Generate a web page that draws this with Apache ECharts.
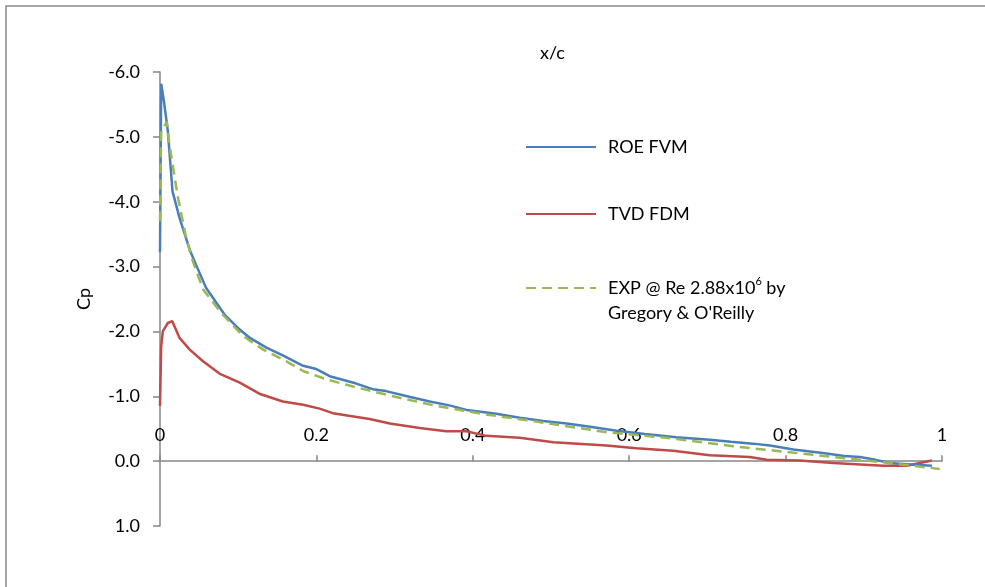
<!DOCTYPE html>
<html>
<head>
<meta charset="utf-8">
<script src="https://cdn.jsdelivr.net/npm/echarts@6/dist/echarts.min.js"></script>
<style>
  html, body { margin: 0; padding: 0; background: #fff; }
  #chart { width: 985px; height: 587px; }
</style>
</head>
<body>
<div id="chart"></div>
<script>
// values
const roeX = [0, 0.0015, 0.005, 0.01, 0.016, 0.025, 0.038, 0.046, 0.059, 0.0825, 0.1, 0.115, 0.136, 0.157, 0.183, 0.2, 0.217, 0.25, 0.272, 0.289, 0.32, 0.345, 0.37, 0.392, 0.43, 0.46, 0.49, 0.52, 0.55, 0.584, 0.62, 0.66, 0.703, 0.73, 0.758, 0.78, 0.81, 0.85, 0.875, 0.895, 0.915, 0.933, 0.96, 0.987];
const roeCp = [-3.22, -5.82, -5.55, -5.09, -4.16, -3.75, -3.26, -3.03, -2.67, -2.26, -2.05, -1.9, -1.75, -1.63, -1.47, -1.42, -1.31, -1.2, -1.11, -1.08, -0.99, -0.92, -0.86, -0.79, -0.73, -0.67, -0.62, -0.58, -0.53, -0.47, -0.42, -0.37, -0.33, -0.3, -0.27, -0.24, -0.18, -0.12, -0.08, -0.065, -0.02, 0.03, 0.05, 0.07];

const tvdX = [0, 0.0015, 0.0036, 0.01, 0.0156, 0.025, 0.038, 0.055, 0.076, 0.102, 0.127, 0.157, 0.183, 0.204, 0.221, 0.268, 0.294, 0.332, 0.366, 0.392, 0.417, 0.46, 0.503, 0.571, 0.609, 0.656, 0.703, 0.754, 0.776, 0.818, 0.861, 0.925, 0.955, 0.987];
const tvdCp = [-0.85, -1.77, -2.0, -2.13, -2.16, -1.9, -1.72, -1.54, -1.35, -1.21, -1.04, -0.92, -0.87, -0.81, -0.74, -0.65, -0.58, -0.51, -0.46, -0.46, -0.39, -0.36, -0.29, -0.24, -0.2, -0.16, -0.09, -0.065, -0.02, -0.01, 0.03, 0.07, 0.07, -0.01];

const expX = [0, 0.0015, 0.0087, 0.012, 0.023, 0.0335, 0.042, 0.055, 0.078, 0.106, 0.132, 0.157, 0.183, 0.213, 0.247, 0.298, 0.354, 0.417, 0.481, 0.575, 0.648, 0.733, 0.818, 0.904, 0.997];
const expCp = [-3.7, -5.09, -5.23, -4.88, -4.06, -3.44, -3.08, -2.65, -2.29, -1.93, -1.72, -1.57, -1.39, -1.26, -1.15, -1.0, -0.85, -0.72, -0.61, -0.44, -0.36, -0.23, -0.12, -0.01, 0.12];

const seriesNames = ['ROE FVM', 'TVD FDM', 'EXP'];

const pairs = (xs, ys) => xs.map((x, i) => [x, ys[i]]);

const chart = echarts.init(document.getElementById('chart'));
const font = 'Lato, "Open Sans", sans-serif';
const axisGray = '#868686';

// plot area, px
const gridTop = 72, gridBottom = 61, plotH = 587 - gridTop - gridBottom;
const yMin = -6, yMax = 1;
// the x axis sits on Cp = 0
const zeroOffset = -plotH * (yMax - 0) / (yMax - yMin);

const legendBase = {
  orient: 'vertical',
  left: 525,
  padding: 0,
  itemWidth: 70,
  itemHeight: 14,
  itemStyle: { opacity: 0 },
  textStyle: { fontFamily: font, fontSize: 18, color: '#000', lineHeight: 25, padding: [0, 0, 0, 7] }
};

chart.setOption({
  animation: false,
  graphic: [{
    type: 'rect',
    shape: { x: 6, y: 6, width: 1100, height: 1100 },
    style: { fill: 'none', stroke: '#898989', lineWidth: 1.5 },
    silent: true
  }],
  title: {
    text: 'x/c',
    left: 540,
    top: 44,
    padding: 0,
    textStyle: { fontFamily: font, fontSize: 18, fontWeight: 'normal', color: '#000' }
  },
  legend: [
    Object.assign({}, legendBase, { top: 134.5, data: [seriesNames[0]] }),
    Object.assign({}, legendBase, { top: 201.5, data: [seriesNames[1]] }),
    Object.assign({}, legendBase, {
      top: 250.5,
      data: [seriesNames[2]],
      formatter: () => 'EXP @ Re 2.88x10{sup|6} by\nGregory & O\'Reilly',
      textStyle: Object.assign({}, legendBase.textStyle, {
        padding: [25, 0, 0, 7],
        rich: { sup: { fontFamily: font, fontSize: 11, verticalAlign: 'top', lineHeight: 25, padding: [0, 0, 8, 0] } }
      })
    })
  ],
  grid: { left: 160, right: 43, top: gridTop, bottom: gridBottom },
  xAxis: {
    type: 'value',
    position: 'bottom',
    offset: zeroOffset,
    min: 0,
    max: 1,
    interval: 0.2,
    axisLine: { onZero: false, lineStyle: { color: axisGray, width: 1.5 } },
    axisTick: { inside: true, length: 6, lineStyle: { color: axisGray, width: 1.5 } },
    axisLabel: { inside: true, margin: 17, fontFamily: font, fontSize: 18, color: '#000' },
    splitLine: { show: false }
  },
  yAxis: {
    type: 'value',
    inverse: true,
    min: yMin,
    max: yMax,
    interval: 1,
    name: 'Cp',
    nameLocation: 'middle',
    nameRotate: 90,
    nameGap: 67,
    nameTextStyle: { fontFamily: font, fontSize: 18, color: '#000' },
    axisLine: { show: true, lineStyle: { color: axisGray, width: 1.5 } },
    axisTick: { show: true, length: 7, lineStyle: { color: axisGray, width: 1.5 } },
    axisLabel: { margin: 20, fontFamily: font, fontSize: 18, color: '#000', formatter: v => v.toFixed(1) },
    splitLine: { show: false }
  },
  series: [
    {
      name: seriesNames[0],
      type: 'line',
      symbol: 'none',
      data: pairs(roeX, roeCp),
      lineStyle: { color: '#4a7ebb', width: 2.5 },
      itemStyle: { color: '#4a7ebb' },
      z: 3
    },
    {
      name: seriesNames[1],
      type: 'line',
      symbol: 'none',
      data: pairs(tvdX, tvdCp),
      lineStyle: { color: '#be4b48', width: 2.5 },
      itemStyle: { color: '#be4b48' },
      z: 2
    },
    {
      name: seriesNames[2],
      type: 'line',
      symbol: 'none',
      data: pairs(expX, expCp),
      lineStyle: { color: '#98b954', width: 2.5, type: [10, 6] },
      itemStyle: { color: '#98b954' },
      z: 4
    }
  ]
});
</script>
</body>
</html>
